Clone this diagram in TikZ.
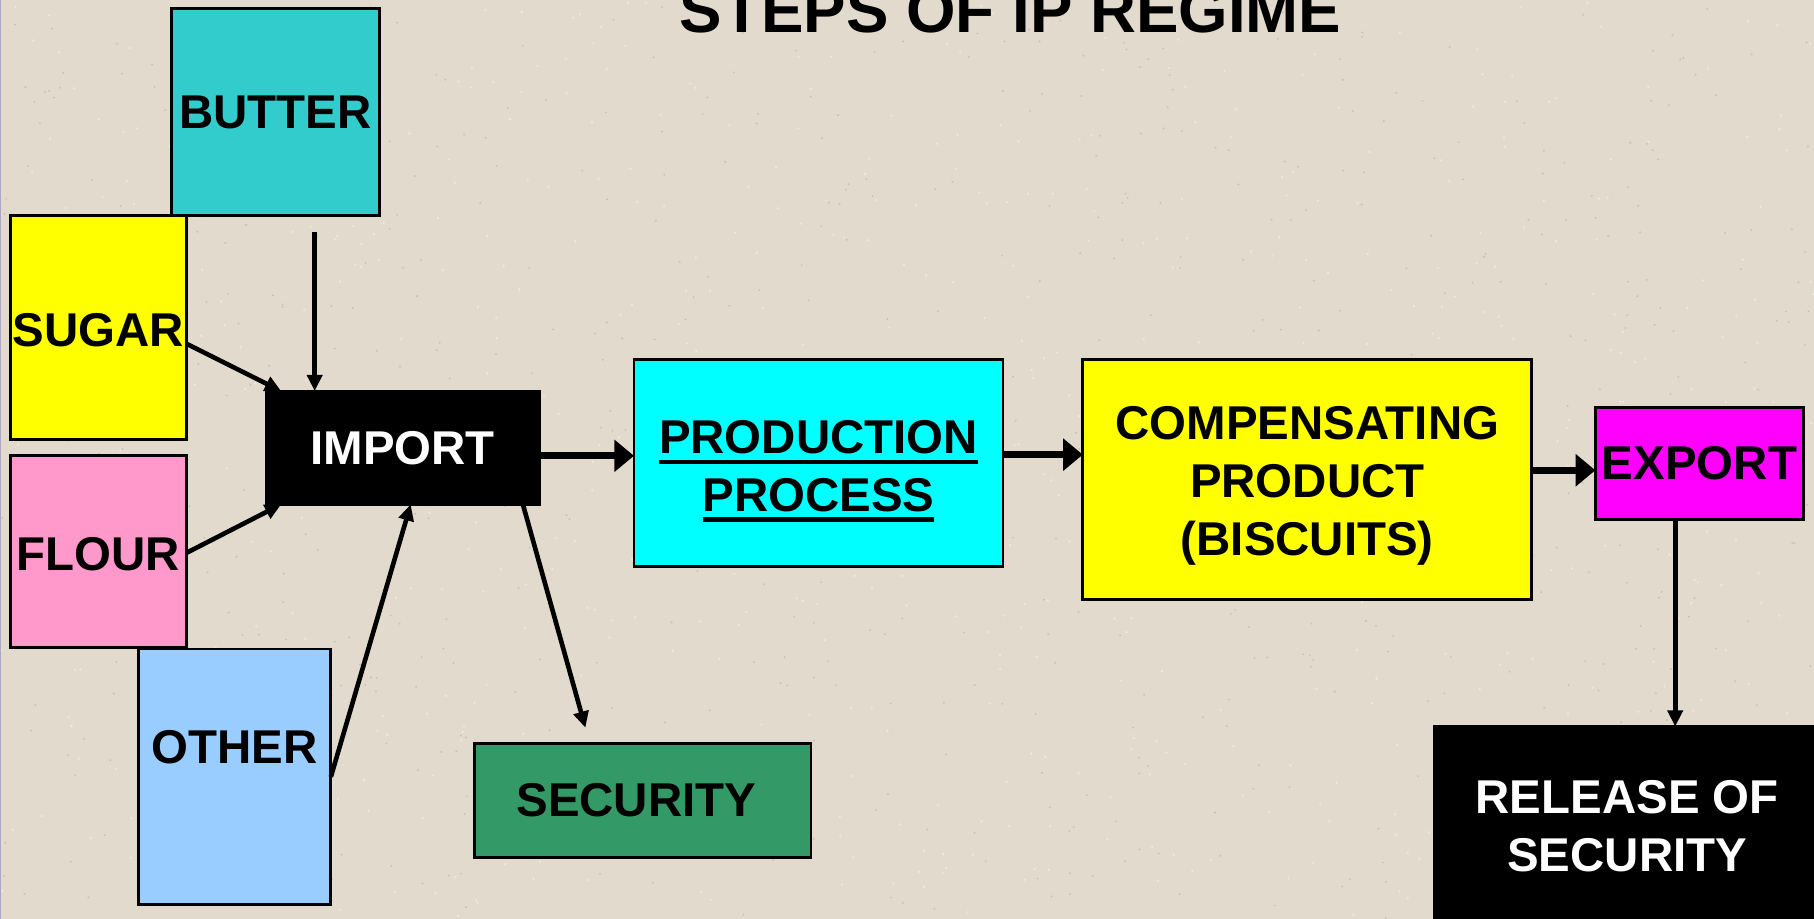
\documentclass[tikz,border=0pt]{standalone}
\usepackage{fontspec}
\setmainfont{Liberation Sans}
\usetikzlibrary{arrows.meta}
\definecolor{bgbeige}{HTML}{E2DACD}
\definecolor{speckdark}{HTML}{C9C0B2}
\definecolor{specklight}{HTML}{EEE9E0}
\definecolor{edgestrip}{HTML}{A8A8C8}
\definecolor{butterteal}{HTML}{33CCCC}
\definecolor{sugaryellow}{HTML}{FFFF00}
\definecolor{flourpink}{HTML}{FF99CC}
\definecolor{otherblue}{HTML}{99CCFF}
\definecolor{prodcyan}{HTML}{00FFFF}
\definecolor{exportmag}{HTML}{FF00FF}
\definecolor{secgreen}{HTML}{339966}
\newcommand\undl[1]{\setbox0=\hbox{#1}\rlap{\rule[-8.6pt]{\wd0}{3.6pt}}\box0\relax}
\begin{document}
\begin{tikzpicture}[x=1pt,y=-1pt,
  box/.style={draw=black, line width=2.5pt, inner sep=0pt, outer sep=0pt, align=center,
    font=\fontsize{41pt}{50pt}\selectfont\bfseries},
  thinarrow/.style={line width=4pt, -{Triangle[length=14pt,width=13pt]}},
  flowarrow/.style={line width=6pt, -{Triangle[length=17pt,width=27pt]}},
]
\useasboundingbox (0,0) rectangle (1568,794);
\fill[bgbeige] (0,0) rectangle (1568,794);
\pgfmathsetseed{4711}
\foreach \i in {1,...,700} {
  \fill[speckdark] ({rnd*1568},{rnd*794}) circle (0.9);
  \fill[specklight] ({rnd*1568},{rnd*794}) circle (1.1);
}
\fill[edgestrip] (0,0) rectangle (0.9,794);

\node[font=\fontsize{55pt}{60pt}\selectfont\bfseries, anchor=base] (title) at (873.5,28) {STEPS OF IP REGIME};

\node[box, fill=butterteal, minimum width=180pt, minimum height=179pt] (butter) at (238,97) {BUTTER};
\node[box, fill=sugaryellow, minimum width=152pt, minimum height=194pt, text height=34pt] (sugar) at (85,283) {SUGAR};
\node[box, fill=flourpink, minimum width=152pt, minimum height=166pt, text height=32pt] (flour) at (85,477) {FLOUR};
\node[box, fill=otherblue, minimum width=166pt, minimum height=221pt, text depth=51pt] (other) at (203,671.5) {OTHER};
\node[box, fill=black, text=white, minimum width=236pt, minimum height=98pt] (import) at (348,387) {IMPORT};
\node[box, fill=prodcyan, minimum width=319pt, minimum height=179pt] (prod) at (707.5,400.5) {\rule{0pt}{42pt}\undl{PRODUCTION}\\\undl{PROCESS}};
\node[box, fill=sugaryellow, minimum width=388pt, minimum height=207pt] (comp) at (1130,414.5) {\rule{0pt}{39pt}COMPENSATING\\PRODUCT\\(BISCUITS)};
\node[box, fill=exportmag, minimum width=180pt, minimum height=97pt] (export) at (1469,400.5) {EXPORT};
\node[box, fill=secgreen, minimum width=291pt, minimum height=98pt] (security) at (555.5,692) {SECURITY\hspace{11pt}};
\node[box, fill=black, text=white, minimum width=333pt, minimum height=172pt] (release) at (1406.5,714) {RELEASE OF\\SECURITY};

\draw[thinarrow] ([xshift=34pt,yshift=-14pt]butter.south) -- ([xshift=-76pt]import.north);
\draw[thinarrow] ([yshift=-14pt]sugar.east) -- ([xshift=13pt]import.north west);
\draw[thinarrow] ([yshift=-1pt]flour.east) -- ([xshift=13pt]import.south west);
\draw[thinarrow] (other.east) -- ([xshift=7pt]import.south);
\draw[thinarrow] ([xshift=104pt]import.south) -- ([xshift=-49.5pt,yshift=14pt]security.north);
\draw[flowarrow] ([yshift=-7pt]import.east) -- ([yshift=-7pt]import.east -| prod.west);
\draw[flowarrow] ([yshift=7.5pt]prod.east) -- ([yshift=7.5pt]prod.east -| comp.west);
\draw[flowarrow] ([yshift=8pt]comp.east) -- ([yshift=8pt]comp.east -| export.west);
\draw[thinarrow] ([xshift=-21pt]export.south) -- ([xshift=-21pt]export.south |- release.north);
\end{tikzpicture}
\end{document}
